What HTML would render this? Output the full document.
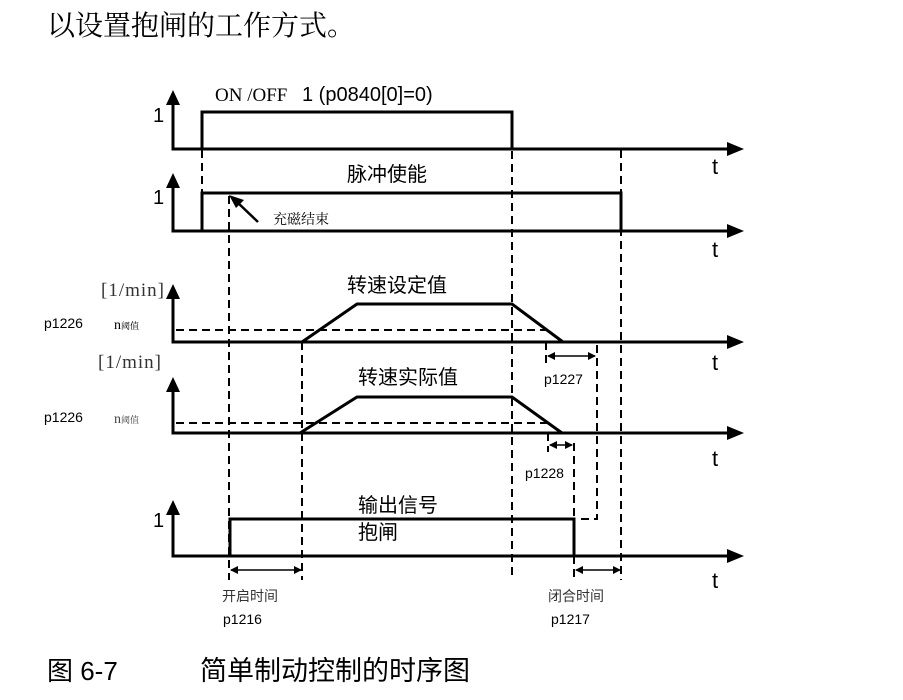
<!DOCTYPE html>
<html><head><meta charset="utf-8"><style>
body{margin:0;background:#fff;}
svg{display:block}
.s{font-family:"Liberation Serif","Noto Serif CJK SC",serif}
.a{font-family:"Liberation Sans","Noto Sans CJK SC",sans-serif}
</style></head><body>
<svg width="903" height="700" viewBox="0 0 903 700" xmlns="http://www.w3.org/2000/svg">
<defs>
<marker id="sa" markerWidth="8" markerHeight="8" refX="7" refY="4" orient="auto" markerUnits="userSpaceOnUse"><path d="M0,0 L8,4 L0,8 Z" fill="#000"/></marker>
<marker id="sb" markerWidth="8" markerHeight="8" refX="1" refY="4" orient="auto" markerUnits="userSpaceOnUse"><path d="M8,0 L0,4 L8,8 Z" fill="#000"/></marker>
</defs>
<text x="47" y="35" font-size="28" class="s" font-family="Noto Serif CJK SC">以设置抱闸的工作方式。</text>

<g stroke="#000" stroke-width="3" fill="none">
<path d="M173,104 V149 H728"/>
<path d="M173,187 V231 H728"/>
<path d="M173,298 V342 H728"/>
<path d="M173,391 V433 H728"/>
<path d="M173,514 V556 H728"/>
<path d="M202,149 V112 H512 V149"/>
<path d="M202,231 V193 H621 V231"/>
<path d="M302,342 L357,304 H512 L563,342"/>
<path d="M300,433 L357,397 H512 L562,433"/>
<path d="M230,556 V519 H574 V556"/>
</g>
<g fill="#000">
<path d="M166,105 L173,90 L180,105 Z"/>
<path d="M166,188 L173,173 L180,188 Z"/>
<path d="M166,299 L173,284 L180,299 Z"/>
<path d="M166,392 L173,377 L180,392 Z"/>
<path d="M166,515 L173,500 L180,515 Z"/>
<path d="M727,142 L744,149 L727,156 Z"/>
<path d="M727,224 L744,231 L727,238 Z"/>
<path d="M727,335 L744,342 L727,349 Z"/>
<path d="M727,426 L744,433 L727,440 Z"/>
<path d="M727,549 L744,556 L727,563 Z"/>
</g>
<g stroke="#000" stroke-width="2" fill="none" stroke-dasharray="8,5">
<path d="M202,150 V231"/>
<path d="M229,196 V580"/>
<path d="M302,342 V580"/>
<path d="M512,112 V580"/>
<path d="M621,150 V580"/>
<path d="M546,342 V364"/>
<path d="M597,345 V519 H576"/>
<path d="M548,433 V452"/>
<path d="M574,443 V519"/>
<path d="M176,330 H548"/>
<path d="M176,423 H550"/>
<path d="M574,556 V582"/>
</g>
<g stroke="#000" stroke-width="1.5">
<line x1="548" y1="356" x2="595" y2="356" marker-start="url(#sb)" marker-end="url(#sa)"/>
<line x1="550" y1="445" x2="572" y2="445" marker-start="url(#sb)" marker-end="url(#sa)"/>
<line x1="231" y1="570" x2="301" y2="570" marker-start="url(#sb)" marker-end="url(#sa)"/>
<line x1="576" y1="570" x2="620" y2="570" marker-start="url(#sb)" marker-end="url(#sa)"/>
</g>
<line x1="258" y1="222" x2="236" y2="201" stroke="#000" stroke-width="2.5"/>
<path d="M229,195 L244,200 L236,208 Z" fill="#000"/>

<g class="a" font-size="20" fill="#000">
<text x="153" y="122">1</text>
<text x="153" y="204">1</text>
<text x="153" y="527">1</text>
<text x="712" y="174" font-size="22">t</text>
<text x="712" y="257" font-size="22">t</text>
<text x="712" y="370" font-size="22">t</text>
<text x="712" y="466" font-size="22">t</text>
<text x="712" y="588" font-size="22">t</text>
</g>
<text x="215" y="101" font-size="19" class="s">ON /OFF</text>
<text x="302" y="101" font-size="20" class="a">1 (p0840[0]=0)</text>
<text x="347" y="181" font-size="20" class="a">脉冲使能</text>
<text x="273" y="224" font-size="14" class="s">充磁结束</text>
<text x="101" y="296" font-size="19" class="s" fill="#333" letter-spacing="1">[1/min]</text>
<text x="98" y="368" font-size="19" class="s" fill="#333" letter-spacing="1">[1/min]</text>
<text x="347" y="292" font-size="20" class="a">转速设定值</text>
<text x="358" y="384" font-size="20" class="a">转速实际值</text>
<text x="44" y="328" font-size="14" class="a">p1226</text>
<text x="44" y="422" font-size="14" class="a">p1226</text>
<text x="114" y="329" font-size="14" class="s">n<tspan font-size="9">阈值</tspan></text>
<text x="114" y="423" font-size="14" class="s" fill="#444">n<tspan font-size="9">阈值</tspan></text>
<text x="544" y="384" font-size="14" class="a">p1227</text>
<text x="525" y="478" font-size="14" class="a">p1228</text>
<text x="358" y="512" font-size="20" class="a">输出信号</text>
<text x="358" y="539" font-size="20" class="a">抱闸</text>
<text x="222" y="601" font-size="14" class="a" fill="#333">开启时间</text>
<text x="223" y="624" font-size="14" class="a">p1216</text>
<text x="548" y="601" font-size="14" class="a" fill="#333">闭合时间</text>
<text x="551" y="624" font-size="14" class="a">p1217</text>
<text x="47" y="680" font-size="26" class="a">图 6-7</text>
<text x="200" y="680" font-size="27" class="a">简单制动控制的时序图</text>
</svg>
</body></html>
